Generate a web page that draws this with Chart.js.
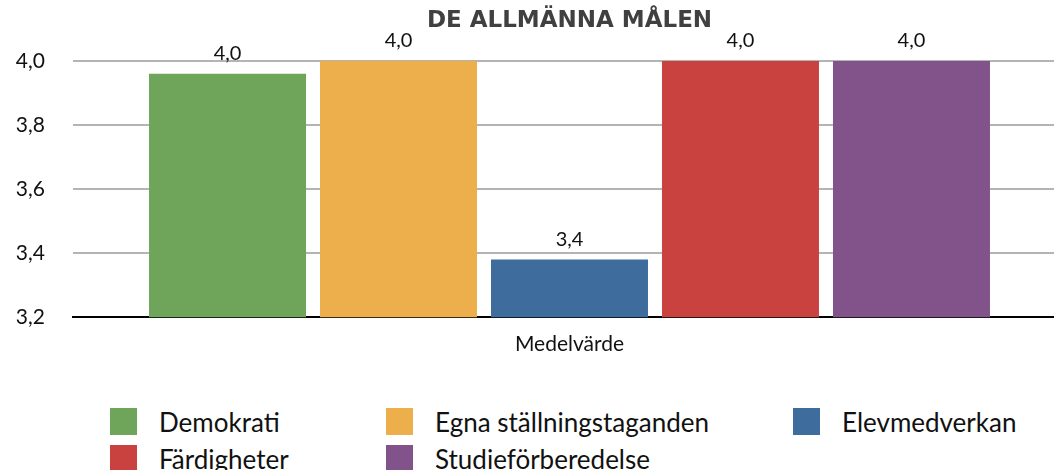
<!DOCTYPE html>
<html>
<head>
<meta charset="utf-8">
<script src="https://cdn.jsdelivr.net/npm/chart.js@4.4.1/dist/chart.umd.min.js"></script>
<style>
  html, body { margin: 0; padding: 0; background: #fff; overflow: hidden; width: 1054px; height: 470px; }
  #wrap { position: relative; width: 1054px; height: 470px; }
  canvas { position: absolute; left: 0; top: 0; }
  #legend { position: absolute; left: 110px; top: 408px; display: grid; grid-template-columns: 276px 407px 260px; row-gap: 10px; font-family: Lato, sans-serif; font-size: 26px; color: #111; }
  .item { display: flex; align-items: center; height: 27px; white-space: nowrap; }
  .box { width: 27px; height: 27px; margin-right: 22px; flex: none; }
</style>
</head>
<body>
<div id="wrap">
  <canvas id="c" width="1066" height="380"></canvas>
  <div id="legend"></div>
</div>
<script>
const categories = ['Medelvärde'];
const seriesNames = ['Demokrati', 'Egna ställningstaganden', 'Elevmedverkan', 'Färdigheter', 'Studieförberedelse'];
const seriesValues = [3.96, 4.0, 3.38, 4.0, 4.0];
const seriesColors = ['#6ea55a', '#edaf4b', '#3d6c9d', '#c94240', '#82528b'];
const yTicks = [3.2, 3.4, 3.6, 3.8, 4.0];

const fmt = (v) => v.toFixed(1).replace('.', ',');
const FONT = 'Lato, sans-serif';

// value above each bar, like excel's data labels
const valueLabels = {
  id: 'valueLabels',
  afterDatasetsDraw(chart) {
    const ctx = chart.ctx;
    ctx.save();
    ctx.font = '20px ' + FONT;
    ctx.fillStyle = '#111';
    ctx.textAlign = 'center';
    ctx.textBaseline = 'alphabetic';
    chart.data.datasets.forEach((ds, i) => {
      chart.getDatasetMeta(i).data.forEach((bar, j) => {
        ctx.fillText(fmt(ds.data[j]), bar.x, bar.y - 14);
      });
    });
    ctx.restore();
  }
};

const chart = new Chart(document.getElementById('c'), {
  type: 'bar',
  data: {
    labels: categories,
    datasets: seriesNames.map((name, i) => ({
      label: name,
      data: [seriesValues[i]],
      backgroundColor: seriesColors[i],
      barPercentage: 0.918,
      categoryPercentage: 0.861,
    })),
  },
  options: {
    responsive: false,
    animation: false,
    layout: { padding: { left: 0, right: 0, top: 0, bottom: 9.6 } },
    plugins: {
      legend: { display: false },
      tooltip: { enabled: false },
      title: {
        display: true,
        text: 'DE ALLMÄNNA MÅLEN',
        fullSize: false,
        color: '#404040',
        font: { family: '"DejaVu Sans", sans-serif', size: 23, weight: 'bold' },
        padding: { top: 7, bottom: 26.4 },
      },
    },
    scales: {
      x: {
        grid: { display: false, drawTicks: false },
        border: { display: true, color: '#000', width: 2 },
        ticks: { color: '#111', padding: 14, font: { family: FONT, size: 21 } },
      },
      y: {
        min: yTicks[0],
        max: yTicks[yTicks.length - 1],
        afterBuildTicks: (scale) => { scale.ticks = yTicks.map((v) => ({ value: v })); },
        afterFit: (scale) => { scale.width = 73; },
        grid: { color: '#b4b4b4', lineWidth: 2, drawTicks: false },
        border: { display: false },
        ticks: { color: '#111', padding: 28, font: { family: FONT, size: 21 }, callback: (v) => fmt(v) },
      },
    },
  },
  plugins: [valueLabels],
});

const legend = document.getElementById('legend');
chart.data.datasets.forEach((ds) => {
  const el = document.createElement('div');
  el.className = 'item';
  el.innerHTML = '<span class="box" style="background:' + ds.backgroundColor + '"></span><span>' + ds.label + '</span>';
  legend.appendChild(el);
});
</script>
</body>
</html>
